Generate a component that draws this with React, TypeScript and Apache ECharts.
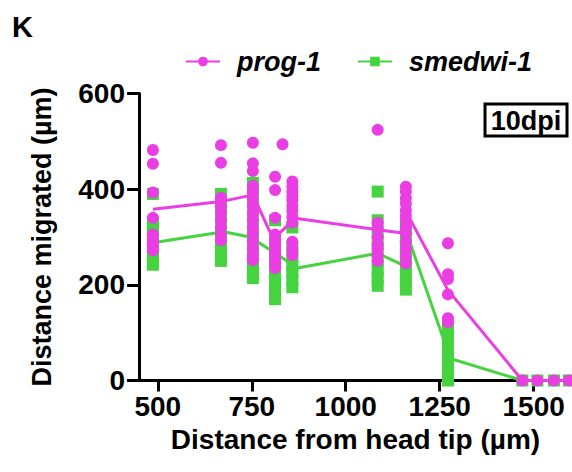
import React, { useEffect, useRef } from 'react';
import * as echarts from 'echarts';

const FONT = '"Liberation Sans", Arial, Helvetica, sans-serif';
const PINK = '#EA3EE4';
const GREEN = '#45D33F';

const xTickValues = [500, 750, 1000, 1250, 1500];
const yTickInterval = 200;

// x position of each group of cells (µm from head tip)
const groupX = [487, 668, 753, 812, 832, 858, 1085, 1160, 1272, 1470, 1510, 1554, 1594];

// prog-1 cells: distance migrated (µm) per group
const prog1Values = [
  [482, 453, 393, 340, 305, 295, 288, 280, 272],
  [492, 455, 382, 365, 350, 335, 320, 305, 293],
  [497, 454, 438, 407, 395, 380, 365, 350, 335, 320, 305, 290, 275, 262, 252],
  [426, 398, 340, 305, 295, 285, 275, 265, 255, 245, 235],
  [494],
  [416, 405, 395, 385, 377, 365, 355, 342, 330, 290, 275, 262],
  [524, 330, 318, 300, 285, 275, 262, 250],
  [405, 395, 381, 370, 356, 345, 335, 320, 308, 290, 275, 260, 245],
  [287, 222, 212, 180, 130, 122],
  [0],
  [0],
  [0],
  [0],
];

// smedwi-1 cells: distance migrated (µm) per group
const smedwi1Values = [
  [390, 330, 318, 305, 290, 275, 262, 250, 242],
  [390, 370, 350, 330, 310, 290, 275, 260, 250],
  [413, 390, 370, 345, 320, 300, 285, 270, 255, 240, 225, 214],
  [335, 300, 280, 260, 240, 225, 210, 195, 180, 170],
  [],
  [320, 280, 260, 240, 225, 210, 195],
  [395, 335, 310, 290, 270, 250, 230, 215, 198],
  [320, 300, 280, 260, 240, 220, 205, 190],
  [112, 100, 80, 60, 45, 30, 15, 5, 0],
  [0],
  [0],
  [0],
  [0],
];

// mean lines
const prog1MeanX = [487, 668, 753, 807, 866, 1085, 1146, 1168, 1272, 1470, 1510, 1554, 1594];
const prog1Mean = [358, 374, 388, 296, 339, 315, 309, 342, 189, 0, 0, 0, 0];
const smedwi1MeanX = [487, 675, 745, 807, 872, 1085, 1148, 1168, 1278, 1470, 1510, 1554, 1594];
const smedwi1Mean = [288, 311, 300, 269, 235, 266, 243, 295, 46, 0, 0, 0, 0];

function toPoints(xs: number[], groups: number[][]) {
  const out: number[][] = [];
  groups.forEach((vals, i) => vals.forEach((v) => out.push([xs[i], v])));
  return out;
}
function zip(xs: number[], ys: number[]) {
  return xs.map((x, i) => [x, ys[i]]);
}

export default function App() {
  const ref = useRef<HTMLDivElement>(null);
  useEffect(() => {
    if (!ref.current) return;
    const chart = echarts.init(ref.current, undefined, { renderer: 'svg' });
    const axisText = { color: '#000', fontFamily: FONT, fontWeight: 'bold' as const };
    chart.setOption({
      animation: false,
      backgroundColor: '#fff',
      grid: { left: 139, right: 0, top: 93.5, bottom: 91.5, containLabel: false },
      legend: {
        left: 185,
        top: 48,
        padding: 0,
        itemWidth: 34,
        itemHeight: 12,
        itemGap: 36,
        data: ['prog-1', 'smedwi-1'],
        textStyle: {
          ...axisText,
          fontSize: 27,
          fontStyle: 'italic',
          padding: [0, 0, 0, 12],
        },
      },
      xAxis: {
        type: 'value',
        min: 450,
        max: 1602,
        name: 'Distance from head tip (µm)',
        nameLocation: 'middle',
        nameGap: 28,
        nameTextStyle: { ...axisText, fontSize: 28 },
        axisLine: { show: true, lineStyle: { color: '#000', width: 3 } },
        axisTick: { show: true, length: 11, lineStyle: { color: '#000', width: 3 }, customValues: xTickValues },
        axisLabel: {
          ...axisText,
          fontSize: 28,
          margin: 12,
          customValues: xTickValues,
          formatter: (v: number) => String(v),
        },
        splitLine: { show: false },
      },
      yAxis: {
        type: 'value',
        min: 0,
        max: 600,
        interval: yTickInterval,
        name: 'Distance migrated (µm)',
        nameLocation: 'middle',
        nameGap: 84,
        nameTextStyle: { ...axisText, fontSize: 27 },
        axisLine: { show: true, lineStyle: { color: '#000', width: 3 } },
        axisTick: { show: true, length: 12, lineStyle: { color: '#000', width: 3 } },
        axisLabel: { ...axisText, fontSize: 28, margin: 14, formatter: (v: number) => String(v) },
        splitLine: { show: false },
      },
      graphic: [
        {
          type: 'text',
          left: 12,
          top: 12,
          style: { text: 'K', fill: '#000', font: `bold 29px ${FONT}` },
        },
        {
          type: 'rect',
          shape: { x: 485, y: 104, width: 82, height: 32 },
          style: { fill: '#fff', stroke: '#000', lineWidth: 3 },
          z: 100,
        },
        {
          type: 'text',
          x: 526,
          y: 121,
          z: 101,
          style: {
            text: '10dpi',
            fill: '#000',
            font: `bold 27px ${FONT}`,
            align: 'center',
            verticalAlign: 'middle',
          },
        },
      ],
      series: [
        {
          name: 'smedwi-1 cells',
          type: 'scatter',
          symbol: 'rect',
          symbolSize: 12,
          itemStyle: { color: GREEN, opacity: 1 },
          data: toPoints(groupX, smedwi1Values),
          z: 2,
        },
        {
          name: 'smedwi-1',
          type: 'line',
          symbol: 'rect',
          showSymbol: false,
          lineStyle: { color: GREEN, width: 3 },
          itemStyle: { color: GREEN },
          data: zip(smedwi1MeanX, smedwi1Mean),
          z: 3,
        },
        {
          name: 'prog-1 cells',
          type: 'scatter',
          symbol: 'circle',
          symbolSize: 12,
          itemStyle: { color: PINK, opacity: 1 },
          data: toPoints(groupX, prog1Values),
          z: 4,
        },
        {
          name: 'prog-1',
          type: 'line',
          symbol: 'circle',
          showSymbol: false,
          lineStyle: { color: PINK, width: 3 },
          itemStyle: { color: PINK },
          data: zip(prog1MeanX, prog1Mean),
          z: 5,
        },
      ],
    });
    return () => chart.dispose();
  }, []);
  return (
    <div
      ref={ref}
      style={{ position: 'fixed', left: 0, top: 0, width: 572, height: 472, background: '#fff' }}
    />
  );
}
